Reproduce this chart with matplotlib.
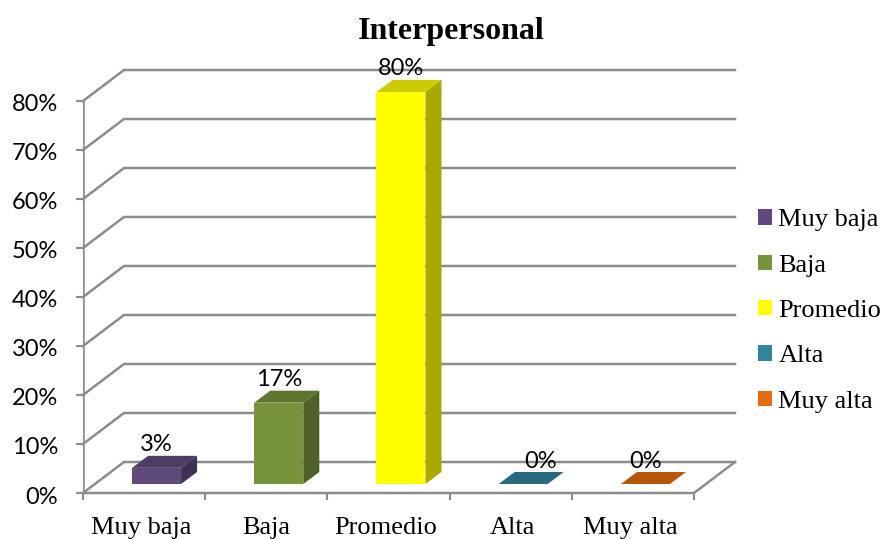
import matplotlib
matplotlib.use("Agg")
import matplotlib.pyplot as plt
import numpy as np
from matplotlib.patches import Polygon
from matplotlib.transforms import ScaledTranslation

categories = ["Muy baja", "Baja", "Promedio", "Alta", "Muy alta"]
values = [3.3, 16.6, 80, 0, 0]
colors = ["#604A7B", "#77933C", "#FFFF00", "#31859C", "#E46C0A"]
y_ticks = [0, 10, 20, 30, 40, 50, 60, 70, 80]

GRID = "#8C8C8C"
W, H = 884, 539
X0, X1, Y0, Y1 = 83, 736, 493, 70   # plot box in pixels
PX_X = 122.2                        # pixels per category
PX_Y = 4.9                          # pixels per percent

fig = plt.figure(figsize=(W / 100, H / 100), dpi=100)
ax = fig.add_axes([X0 / W, 1 - Y0 / H, (X1 - X0) / W, (Y0 - Y1) / H])
ax.set_xlim(0, (X1 - X0) / PX_X)
ax.set_ylim(0, (Y0 - Y1) / PX_Y)
for s in ax.spines.values():
    s.set_visible(False)

# depth of the 3d box and of the bars
box_dx, box_dy = 41 / PX_X, 31 / PX_Y
bar_dx, bar_dy = 16 / PX_X, 12 / PX_Y
floor_dx, floor_dy = 12.5 / PX_X, 9 / PX_Y
n = len(categories)

# walls
for t in y_ticks:
    ax.plot([0, box_dx, n + box_dx], [t, t + box_dy, t + box_dy],
            color=GRID, lw=1.8, zorder=1, clip_on=False, solid_joinstyle="miter")
ax.plot([0, 0], [0, 80], color=GRID, lw=1.8, zorder=1)
ax.plot([0, n, n + box_dx], [0, 0, box_dy], color=GRID, lw=1.8, zorder=1,
        clip_on=False, solid_joinstyle="miter")


def shade(c, f):
    return tuple(np.array(matplotlib.colors.to_rgb(c)) * f)


# bars
xs = np.arange(n) + 0.5 + floor_dx
w = 49 / PX_X
bars = ax.bar(xs, values, width=w, bottom=floor_dy, color=colors, zorder=3)
label_shift = [0, 0, 0, 17, 0]
for i, b in enumerate(bars):
    l, r = b.get_x(), b.get_x() + b.get_width()
    top = floor_dy + values[i]
    ax.add_patch(Polygon([(l, top), (r, top), (r + bar_dx, top + bar_dy), (l + bar_dx, top + bar_dy)],
                         closed=True, fc=shade(colors[i], 0.8), ec="none", zorder=3))
    ax.add_patch(Polygon([(r, floor_dy), (r + bar_dx, floor_dy + bar_dy), (r + bar_dx, top + bar_dy), (r, top)],
                         closed=True, fc=shade(colors[i], 0.66), ec="none", zorder=3))
    ax.annotate(f"{values[i]:.0f}%", (xs[i], top + bar_dy), xytext=(label_shift[i], 11),
                textcoords="offset pixels", ha="center", va="center",
                fontsize=17, family="Lato", zorder=4, annotation_clip=False)

# axis ticks and labels
ax.set_yticks(y_ticks)
ax.set_yticklabels([f"{t}%" for t in y_ticks], fontsize=17, family="Lato")
ax.tick_params(axis="y", length=5, width=1.5, color=GRID, pad=13)
for lab in ax.get_yticklabels():
    lab.set_transform(lab.get_transform() + ScaledTranslation(0, -2 / 100, fig.dpi_scale_trans))
ax.set_xticks(np.arange(n + 1))
ax.set_xticklabels([])
ax.tick_params(axis="x", length=5, width=1.5, color=GRID)
ax.set_xticks(np.arange(n) + 0.5, minor=True)
ax.set_xticklabels(categories, minor=True, fontsize=19, family="Liberation Serif")
ax.tick_params(axis="x", which="minor", length=0, pad=17)
# the category labels are not quite centred in the reference
for lab, dx in zip(ax.get_xticklabels(minor=True), [-3, 0, -3, 2, -3]):
    lab.set_transform(lab.get_transform() + ScaledTranslation(dx / 100, 0, fig.dpi_scale_trans))

fig.text(451 / W, 1 - 32 / H, "Interpersonal", ha="center", va="center",
         fontsize=23, fontweight="bold", family="Liberation Serif")

fig.legend(bars, categories, loc="center left", bbox_to_anchor=(758 / W, 1 - 311 / H),
           frameon=False, handlelength=0.53, handleheight=0.53, handletextpad=0.24,
           labelspacing=0.88, borderpad=0, borderaxespad=0,
           prop={"family": "Liberation Serif", "size": 19})

fig.savefig("out.png", dpi=100)
